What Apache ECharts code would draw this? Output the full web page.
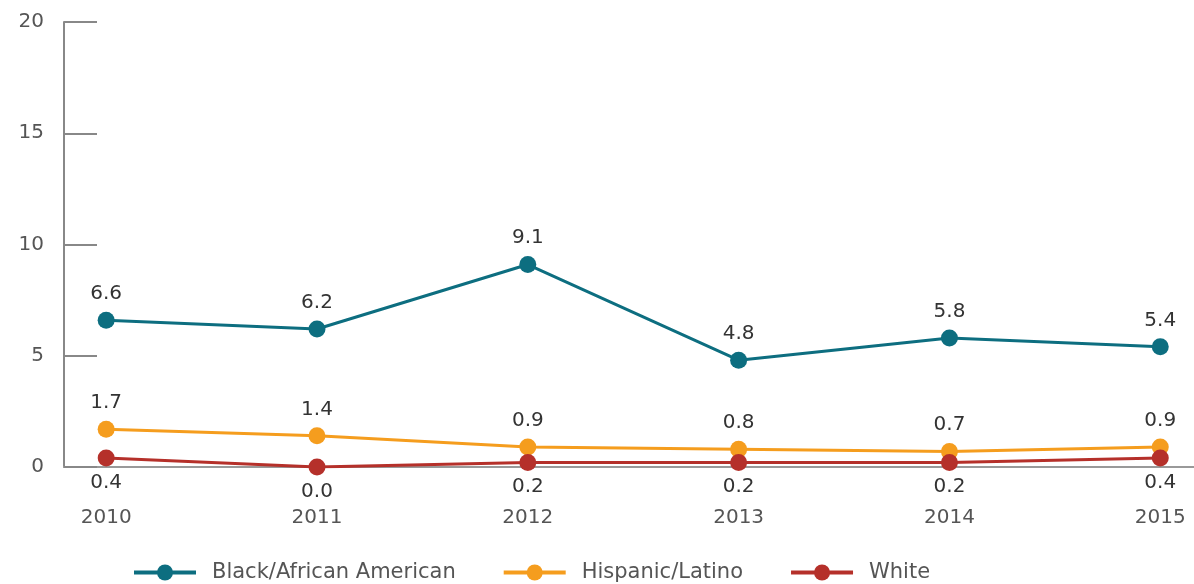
<!DOCTYPE html>
<html><head><meta charset="utf-8">
<script src="https://cdn.jsdelivr.net/npm/echarts@6/dist/echarts.min.js"></script>
<style>html,body{margin:0;padding:0;background:#fff}#c{width:1194px;height:584px}</style>
</head><body><div id="c"></div>
<script>
const years = ['2010','2011','2012','2013','2014','2015'];
const black = [6.6, 6.2, 9.1, 4.8, 5.8, 5.4];
const hispanic = [1.7, 1.4, 0.9, 0.8, 0.7, 0.9];
const white = [0.4, 0.0, 0.2, 0.2, 0.2, 0.4];
const yTicks = [0, 5, 10, 15, 20];

const FONT = 'DejaVu Sans';
const chart = echarts.init(document.getElementById('c'));
function mk(name, vals, color, pos) {
  return {
    name, type: 'line', data: vals.map((v, i) => [i, v]),
    symbol: 'circle', symbolSize: 17,
    lineStyle: { color, width: 3 }, itemStyle: { color },
    label: { show: true, position: pos, distance: pos === 'top' ? 8 : 6,
      color: '#333', fontFamily: FONT, fontSize: 20,
      formatter: p => p.value[1].toFixed(1) },
    z: name === 'White' ? 3 : 2
  };
}
chart.setOption({
  animation: false,
  textStyle: { fontFamily: FONT },
  grid: { left: 64, right: 0, top: 22, bottom: 117, containLabel: false },
  xAxis: {
    type: 'value', min: -0.2, max: 5.16,
    axisLine: { show: true, lineStyle: { color: '#999', width: 2 } },
    axisTick: { show: false }, splitLine: { show: false },
    axisLabel: { customValues: [0,1,2,3,4,5], formatter: v => years[v],
      color: '#555', fontSize: 20, fontFamily: FONT, margin: 41 }
  },
  yAxis: {
    type: 'value', min: 0, max: 20, interval: 5,
    axisLine: { show: true, onZero: false, lineStyle: { color: '#888', width: 2 } },
    axisTick: { show: true, inside: true, length: 33, lineStyle: { color: '#888', width: 2 } },
    splitLine: { show: false },
    axisLabel: { color: '#555', fontSize: 20, fontFamily: FONT, margin: 20,
      customValues: yTicks }
  },
  legend: {
    top: 557, left: 127, itemWidth: 62, itemHeight: 20, itemGap: 46,
    lineStyle: { width: 4 },
    textStyle: { color: '#555', fontSize: 21, fontFamily: FONT, padding: [0,0,0,11] },
    data: ['Black/African American', 'Hispanic/Latino', 'White']
  },
  series: [
    mk('Black/African American', black, '#0d6e80', 'top'),
    mk('Hispanic/Latino', hispanic, '#f59d1e', 'top'),
    mk('White', white, '#b5302a', 'bottom')
  ]
});
</script></body></html>
